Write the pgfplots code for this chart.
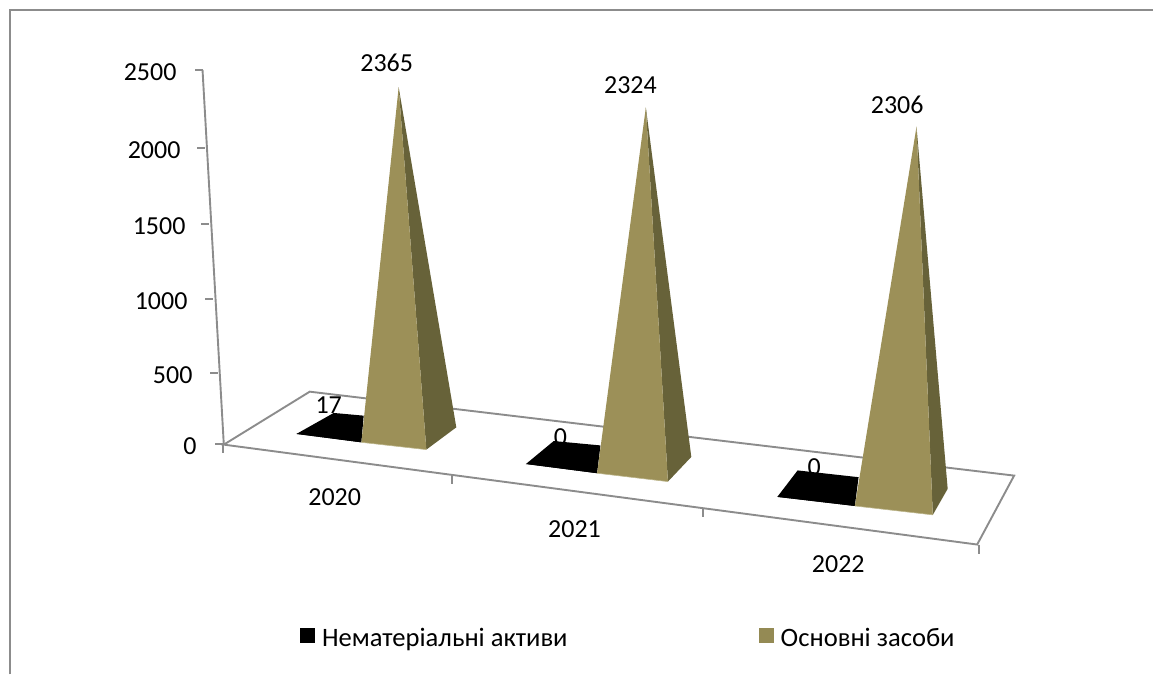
\documentclass[border=0pt]{standalone}
\usepackage{pgfplots}
\pgfplotsset{compat=1.18}
\usepackage{pgfplotstable}
\usepackage{fontspec}
\setmainfont{Carlito}
\definecolor{olivefront}{HTML}{9C9058}
\definecolor{oliveside}{HTML}{676239}
\definecolor{olivekey}{HTML}{948A54}
\definecolor{oliveedge}{HTML}{BDB68C}
\definecolor{rulegray}{HTML}{8C8C8C}
\tikzset{lab/.style={font=\fontsize{13}{15}\selectfont, inner sep=0pt, text=black},
  keylab/.style={font=\fontsize{13.3}{15}\selectfont, inner sep=0pt, text=black},
  rule/.style={rulegray, line width=0.95pt}}

% Vertices in sheet units; h is the value at the vertex, k the height of one value unit there.
% Series "Основні засоби"
\pgfplotstableread{
px py h k
361.7 442.7 0 0.14681
399.0 434.5 2365 0.14681
426.7 450.0 0 0.14681
}\frontA
\pgfplotstableread{
px py h k
426.7 450.0 0 0.14681
399.0 434.5 2365 0.14681
456.7 427.7 0 0.14681
}\sideA
\pgfplotstableread{
px py h k
597.6 473.6 0 0.15404
646.4 465.5 2324 0.15404
668.5 482.0 0 0.15404
}\frontB
\pgfplotstableread{
px py h k
668.5 482.0 0 0.15404
646.4 465.5 2324 0.15404
691.9 457.3 0 0.15404
}\sideB
\pgfplotstableread{
px py h k
855.6 506.4 0 0.16088
917.3 497.8 2306 0.16088
933.6 515.3 0 0.16088
}\frontC
\pgfplotstableread{
px py h k
933.6 515.3 0 0.16088
917.3 497.8 2306 0.16088
948.5 489.2 0 0.16088
}\sideC
% Series "Нематеріальні активи": base outline, then the front face up to the apex
\pgfplotstableread{
px py h k
296.7 434.3 0 0.14681
334.0 413.3 0 0.14681
364.0 416.0 0 0.14681
361.7 442.7 0 0.14681
}\baseA
\pgfplotstableread{
px py h k
296.7 434.3 0 0.14681
330.0 428.0 17 0.14681
361.7 442.7 0 0.14681
}\blackA
\pgfplotstableread{
px py h k
526.4 464.4 0 0.15404
554.2 441.4 0 0.15404
601.0 445.8 0 0.15404
597.6 473.6 0 0.15404
}\baseB
\pgfplotstableread{
px py h k
526.4 464.4 0 0.15404
564.0 457.0 0 0.15404
597.6 473.6 0 0.15404
}\blackB
\pgfplotstableread{
px py h k
778.0 497.3 0 0.16088
798.3 470.8 0 0.16088
859.3 477.6 0 0.16088
855.6 506.4 0 0.16088
}\baseC
\pgfplotstableread{
px py h k
778.0 497.3 0 0.16088
817.0 488.0 0 0.16088
855.6 506.4 0 0.16088
}\blackC

\newcommand{\solid}[2]{\addplot[fill=#2,draw=none,forget plot] table[x=px,y expr=\thisrow{py}-\thisrow{h}*\thisrow{k}] {#1};}

\begin{document}
\begin{tikzpicture}
\begin{axis}[
  scale only axis, width=577pt, height=337.5pt,
  xmin=0, xmax=1154, ymin=0, ymax=675, y dir=reverse,
  hide axis, clip=false,
]
% sheet extent
\path (axis cs:0,0) (axis cs:1154,675);

% outer frame
\draw[rulegray, line width=1pt] (axis cs:10.5,675) -- (axis cs:10.5,10.5) -- (axis cs:1154,10.5);

% floor and axes in perspective
\draw[rule, line join=miter]
  (axis cs:224,445) -- (axis cs:310,392) -- (axis cs:1015,476) -- (axis cs:978,545) -- cycle;
\draw[rule] (axis cs:224,445) -- (axis cs:202.7,70);
\draw[rule] (axis cs:202.7,70) -- (axis cs:194.7,70);
\draw[rule] (axis cs:205,148) -- (axis cs:197,148);
\draw[rule] (axis cs:209,224) -- (axis cs:201,224);
\draw[rule] (axis cs:213,299) -- (axis cs:205,299);
\draw[rule] (axis cs:218,373) -- (axis cs:210,373);
\draw[rule] (axis cs:223.5,444.5) -- (axis cs:215.5,444.5);
\draw[rule] (axis cs:223.5,445) -- (axis cs:223.5,453);
\draw[rule] (axis cs:452.5,475) -- (axis cs:452.5,484);
\draw[rule] (axis cs:703.7,509) -- (axis cs:703.7,517);
\draw[rule] (axis cs:980,545) -- (axis cs:980,554);

% value-axis labels
\node[lab,anchor=east] at (axis cs:177,72) {2500};
\node[lab,anchor=east] at (axis cs:181,150) {2000};
\node[lab,anchor=east] at (axis cs:186,226) {1500};
\node[lab,anchor=east] at (axis cs:188,301) {1000};
\node[lab,anchor=east] at (axis cs:193,375) {500};
\node[lab,anchor=east] at (axis cs:197,447) {0};

% year labels
\node[lab] at (axis cs:335,498) {2020};
\node[lab] at (axis cs:575,529.5) {2021};
\node[lab] at (axis cs:839,565) {2022};

% pyramids
\solid{\baseA}{black}
\solid{\blackA}{black}
\solid{\baseB}{black}
\solid{\blackB}{black}
\solid{\baseC}{black}
\solid{\blackC}{black}
\solid{\sideA}{oliveside}
\solid{\frontA}{olivefront}
\solid{\sideB}{oliveside}
\solid{\frontB}{olivefront}
\solid{\sideC}{oliveside}
\solid{\frontC}{olivefront}

% light rim along the front base
\draw[oliveedge, line width=0.3pt] (axis cs:361.7,442.7) -- (axis cs:426.7,450);
\draw[oliveedge, line width=0.3pt] (axis cs:597.6,473.6) -- (axis cs:668.5,482);
\draw[oliveedge, line width=0.3pt] (axis cs:855.6,506.4) -- (axis cs:933.6,515.3);

% value labels
\node[lab] at (axis cs:387,63) {2365};
\node[lab] at (axis cs:631,85) {2324};
\node[lab] at (axis cs:898,105) {2306};
\node[lab] at (axis cs:329,405) {17};
\node[lab] at (axis cs:561,438) {0};
\node[lab] at (axis cs:815,468) {0};

% legend
\fill[black] (axis cs:300.5,629) rectangle (axis cs:315,644);
\node[keylab,anchor=base west] at (axis cs:322,647) {Нематеріальні активи};
\fill[olivekey] (axis cs:760,629) rectangle (axis cs:775,644);
\node[keylab,anchor=base west] at (axis cs:781,647) {Основні засоби};
\end{axis}
\end{tikzpicture}
\end{document}
